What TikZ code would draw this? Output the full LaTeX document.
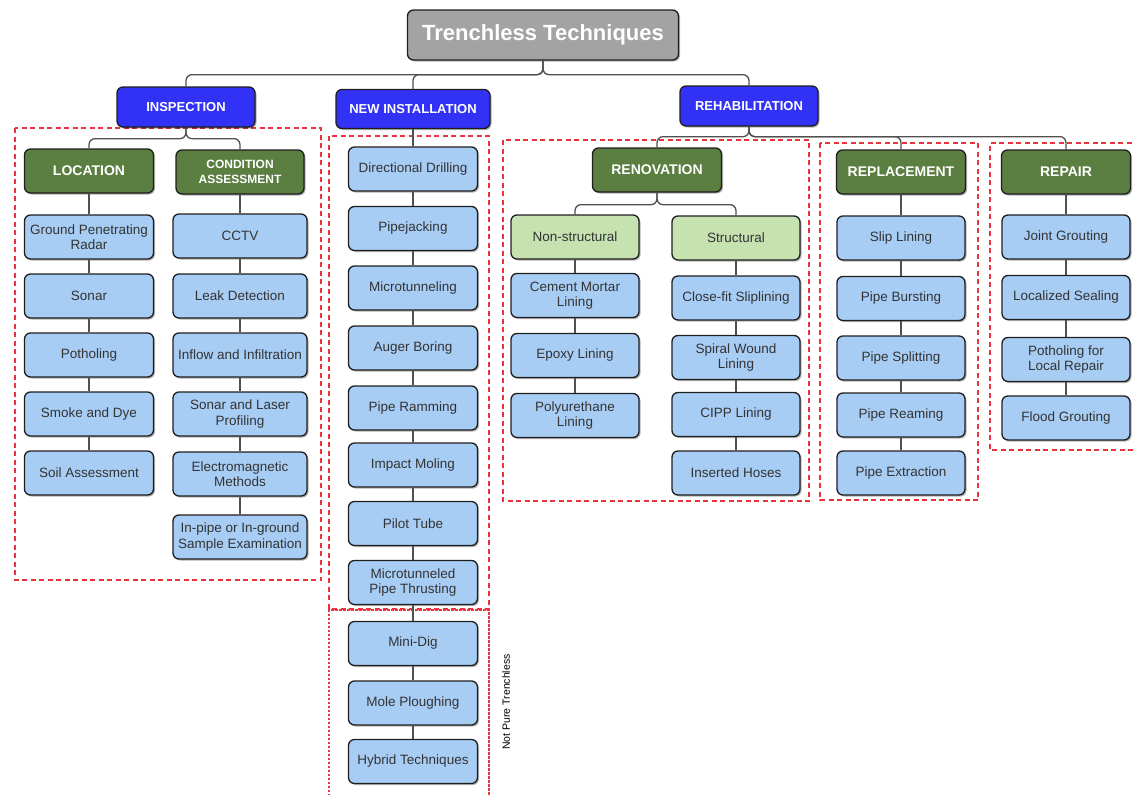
\documentclass[tikz,border=0pt]{standalone}
\usepackage{fontspec}
\setmainfont{Liberation Sans}
\usetikzlibrary{shadows}
\definecolor{topblue}{HTML}{3232F6}
\definecolor{hdgreen}{HTML}{5B7E41}
\definecolor{lgreen}{HTML}{C6E2B0}
\definecolor{leafblue}{HTML}{A8CDF5}
\definecolor{titlegray}{HTML}{A3A3A3}
\definecolor{boxline}{HTML}{1E1E1E}
\definecolor{leaftext}{HTML}{333333}
\definecolor{connc}{HTML}{505050}
\definecolor{dashred}{HTML}{E8343C}
\begin{document}
\begin{tikzpicture}[x=1pt,y=-1pt,
  box/.style={rounded corners=6pt, draw=boxline, line width=1.3pt, align=center, inner sep=2pt,
    drop shadow={shadow xshift=1.5pt,shadow yshift=-1.5pt,opacity=0.3,fill=black}},
  leaf/.style={box, fill=leafblue, text=leaftext, minimum width=129pt, minimum height=44pt,
    font=\fontsize{13.5}{15.5}\selectfont},
  wleaf/.style={leaf, minimum width=134pt},
  sub/.style={box, fill=lgreen, text=leaftext, minimum width=128pt, minimum height=44pt,
    font=\fontsize{13.5}{15.5}\selectfont},
  hdr/.style={box, fill=hdgreen, text=white, minimum width=129pt, minimum height=44pt,
    font=\fontsize{14}{16}\selectfont\bfseries},
  topc/.style={box, fill=topblue, text=white, minimum width=138pt, minimum height=40pt,
    font=\fontsize{13}{15}\selectfont\bfseries},
  ttl/.style={box, fill=titlegray, text=white, minimum width=271pt, minimum height=50pt,
    font=\fontsize{22}{24}\selectfont\bfseries},
  conn/.style={draw=connc, line width=1.3pt, rounded corners=6pt},
  grp/.style={draw=dashred, line width=1.3pt, dash pattern=on 5pt off 3.5pt},
  grpdot/.style={draw=dashred, line width=1.3pt, dash pattern=on 2.5pt off 1.5pt}
]
\useasboundingbox (0,0) rectangle (1133,795);

% group frames
\draw[grp] (15,128) rectangle (321,580);
\draw[grp] (329,136) rectangle (489,609);
\draw[grpdot] (329,800) -- (329,610) -- (489,610) -- (489,800);
\draw[grp] (503,140) rectangle (809,501);
\draw[grp] (820,143) rectangle (978,500);
\draw[grp] (1140,143) -- (990,143) -- (990,450) -- (1140,450);

% top level
\node[ttl] (title) at (543,35) {Trenchless Techniques};
\node[topc] (insp) at (186,107) {INSPECTION};
\node[topc, minimum width=154pt, minimum height=39pt] (newi) at (413,109) {NEW INSTALLATION};
\node[topc] (rehab) at (749,106) {REHABILITATION};

% inspection
\node[hdr] (loc) at (89,171) {LOCATION};
\node[hdr, minimum width=128pt, font=\fontsize{12}{14.5}\selectfont\bfseries] (cond) at (240,172) {CONDITION\\ASSESSMENT};

\node[leaf] (gpr) at (89,237) {Ground Penetrating\\Radar};
\node[leaf] (sonar) at (89,296) {Sonar};
\node[leaf] (poth) at (89,355) {Potholing};
\node[leaf] (smoke) at (89,414) {Smoke and Dye};
\node[leaf] (soil) at (89,473) {Soil Assessment};

\node[wleaf] (cctv) at (240,236) {CCTV};
\node[wleaf] (leak) at (240,296) {Leak Detection};
\node[wleaf] (inflow) at (240,355) {Inflow and Infiltration};
\node[wleaf] (slp) at (240,414) {Sonar and Laser\\Profiling};
\node[wleaf] (em) at (240,474) {Electromagnetic\\Methods};
\node[wleaf] (inpipe) at (240,537) {In-pipe or In-ground\\Sample Examination};

% new installation
\node[leaf] (dd) at (413,169) {Directional Drilling};
\node[leaf] (pj) at (413,228.5) {Pipejacking};
\node[leaf] (mt) at (413,288) {Microtunneling};
\node[leaf] (ab) at (413,348) {Auger Boring};
\node[leaf] (pr) at (413,408) {Pipe Ramming};
\node[leaf] (im) at (413,465) {Impact Moling};
\node[leaf] (pt) at (413,523.5) {Pilot Tube};
\node[leaf] (mpt) at (413,582.5) {Microtunneled\\Pipe Thrusting};
\node[leaf] (md) at (413,643.5) {Mini-Dig};
\node[leaf] (mp) at (413,703) {Mole Ploughing};
\node[leaf] (ht) at (413,761.5) {Hybrid Techniques};
\node[rotate=90, font=\fontsize{10.5}{12}\selectfont] (npt) at (506,702) {Not Pure Trenchless};

% rehabilitation
\node[hdr] (ren) at (657,170) {RENOVATION};
\node[hdr] (repl) at (901,172) {REPLACEMENT};
\node[hdr] (rep) at (1066,172) {REPAIR};

\node[sub] (ns) at (575,237) {Non-structural};
\node[sub] (st) at (736,238) {Structural};

\node[leaf, minimum width=128pt] (cml) at (575,295.5) {Cement Mortar\\Lining};
\node[leaf, minimum width=128pt] (epoxy) at (575,355.5) {Epoxy Lining};
\node[leaf, minimum width=128pt] (poly) at (575,415.5) {Polyurethane\\Lining};

\node[leaf, minimum width=128pt] (cfs) at (736,298) {Close-fit Sliplining};
\node[leaf, minimum width=128pt] (swl) at (736,357.5) {Spiral Wound\\Lining};
\node[leaf, minimum width=128pt] (cipp) at (736,414.5) {CIPP Lining};
\node[leaf, minimum width=128pt] (ih) at (736,473) {Inserted Hoses};

\node[leaf, minimum width=128pt] (sl) at (901,238) {Slip Lining};
\node[leaf, minimum width=128pt] (pb) at (901,298.5) {Pipe Bursting};
\node[leaf, minimum width=128pt] (ps) at (901,358) {Pipe Splitting};
\node[leaf, minimum width=128pt] (prm) at (901,415) {Pipe Reaming};
\node[leaf, minimum width=128pt] (pe) at (901,473) {Pipe Extraction};

\node[leaf, minimum width=128pt] (jg) at (1066,237) {Joint Grouting};
\node[leaf, minimum width=128pt] (ls) at (1066,297.5) {Localized Sealing};
\node[leaf, minimum width=128pt] (plr) at (1066,359.5) {Potholing for\\Local Repair};
\node[leaf, minimum width=128pt] (fg) at (1066,418) {Flood Grouting};

% tree connectors
\draw[conn] (title.south) -- ++(0,14) -| (insp.north);
\draw[conn] (title.south) -- ++(0,14) -| (newi.north);
\draw[conn] (title.south) -- ++(0,14) -| (rehab.north);

\draw[conn] (insp.south) -- ++(0,11) -| (loc.north);
\draw[conn] (insp.south) -- ++(0,11) -| (cond.north);

\draw[conn] (rehab.south) -- ++(0,10) -| (ren.north);
\draw[conn] (rehab.south) -- ++(0,10) -| (repl.north);
\draw[conn] (rehab.south) -- ++(0,10) -| (rep.north);

\draw[conn] (ren.south) -- ++(0,12) -| (ns.north);
\draw[conn] (ren.south) -- ++(0,12) -| (st.north);

% vertical chains
\foreach \a/\b in {loc/gpr, gpr/sonar, sonar/poth, poth/smoke, smoke/soil,
  cond/cctv, cctv/leak, leak/inflow, inflow/slp, slp/em, em/inpipe,
  newi/dd, dd/pj, pj/mt, mt/ab, ab/pr, pr/im, im/pt, pt/mpt, mpt/md, md/mp, mp/ht,
  ns/cml, cml/epoxy, epoxy/poly,
  st/cfs, cfs/swl, swl/cipp, cipp/ih,
  repl/sl, sl/pb, pb/ps, ps/prm, prm/pe,
  rep/jg, jg/ls, ls/plr, plr/fg}
  \draw[conn] (\a.south) -- (\b.north);
\end{tikzpicture}
\end{document}
